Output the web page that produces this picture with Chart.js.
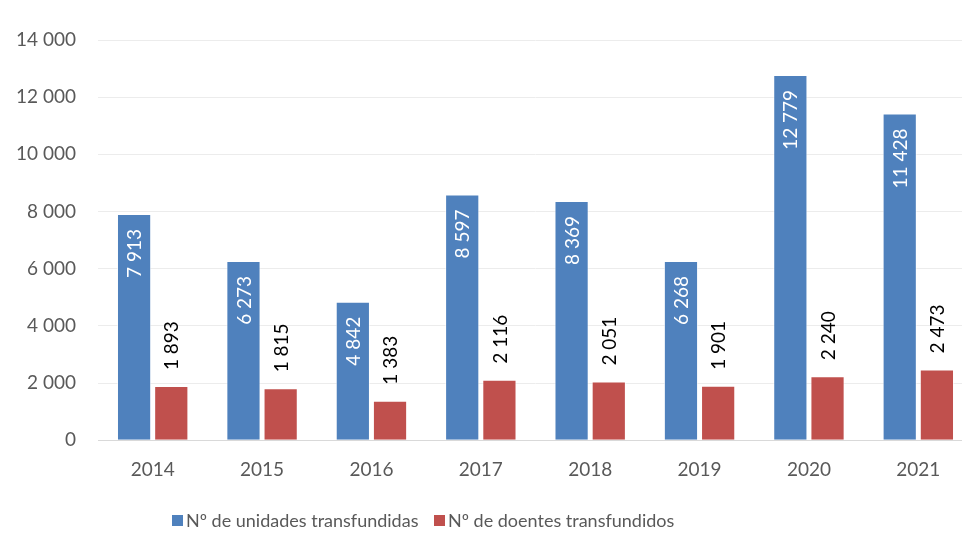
<!DOCTYPE html>
<html>
<head>
<meta charset="utf-8">
<script src="https://cdn.jsdelivr.net/npm/chart.js@4.4.0/dist/chart.umd.min.js"></script>
<style>
  html, body { margin: 0; padding: 0; background: #ffffff; overflow: hidden; }
  #wrap { position: absolute; left: 0; top: 0; width: 975px; height: 547px; }
  .leg-item { position: absolute; top: 509px; display: flex; align-items: center;
              font: 18px Lato, "Open Sans", sans-serif; color: #595959; white-space: nowrap; line-height: 22px; }
  .leg-box { width: 11px; height: 11px; margin-right: 3px; }
</style>
</head>
<body>
<div id="wrap"><canvas id="transfusoesChart"></canvas></div>
<div id="legenda"></div>
<script>
// ==== Dados ====
const anos = ['2014', '2015', '2016', '2017', '2018', '2019', '2020', '2021'];
const unidadesTransfundidas = [7913, 6273, 4842, 8597, 8369, 6268, 12779, 11428];
const doentesTransfundidos = [1893, 1815, 1383, 2116, 2051, 1901, 2240, 2473];
const yTicks = [0, 2000, 4000, 6000, 8000, 10000, 12000, 14000];

// ==== Cores ====
const azul = '#4F81BD';
const vermelho = '#C0504D';
const cinzaTexto = '#595959';
const fonte = 'Lato, "Open Sans", sans-serif';

// separador de milhares com espaço
const fmt = v => String(v).replace(/\B(?=(\d{3})+(?!\d))/g, ' ');

// ==== Rótulos rodados nas barras ====
const rotulosBarras = {
    id: 'rotulosBarras',
    afterDatasetsDraw(chart) {
        const ctx = chart.ctx;
        chart.data.datasets.forEach((ds, i) => {
            const meta = chart.getDatasetMeta(i);
            meta.data.forEach((bar, j) => {
                const texto = fmt(ds.data[j]);
                ctx.save();
                ctx.translate(bar.x, bar.y);
                ctx.rotate(-Math.PI / 2);
                ctx.font = '19px ' + fonte;
                ctx.textBaseline = 'middle';
                if (i === 0) {
                    // dentro da barra, junto ao topo
                    ctx.fillStyle = '#ffffff';
                    ctx.textAlign = 'right';
                    ctx.fillText(texto, -15, 1);
                } else {
                    // acima da barra
                    ctx.fillStyle = '#000000';
                    ctx.textAlign = 'left';
                    ctx.fillText(texto, 16, 1);
                }
                ctx.restore();
            });
        });
    }
};

const ctx = document.getElementById('transfusoesChart').getContext('2d');
const chart = new Chart(ctx, {
    type: 'bar',
    data: {
        labels: anos,
        datasets: [{
            label: 'Nº de unidades transfundidas',
            data: unidadesTransfundidas,
            backgroundColor: azul,
            borderColor: 'rgba(255,255,255,0.6)',
            borderWidth: 1,
            categoryPercentage: 0.68,
            barPercentage: 0.92
        }, {
            label: 'Nº de doentes transfundidos',
            data: doentesTransfundidos,
            backgroundColor: vermelho,
            borderColor: 'rgba(255,255,255,0.6)',
            borderWidth: 1,
            categoryPercentage: 0.68,
            barPercentage: 0.92
        }]
    },
    options: {
        responsive: true,
        maintainAspectRatio: false,
        animation: false,
        layout: { padding: { left: 12, top: 40, right: 2, bottom: 48 } },
        plugins: {
            legend: { display: false },
            tooltip: { enabled: false }
        },
        scales: {
            y: {
                min: 0,
                max: 14000,
                afterBuildTicks: s => { s.ticks = yTicks.map(v => ({ value: v })); },
                afterFit: s => { s.width = 86; },
                border: { display: false },
                grid: { color: '#ececec', lineWidth: 1, drawTicks: false },
                ticks: {
                    color: cinzaTexto,
                    padding: 22,
                    font: { family: fonte, size: 19 },
                    callback: v => fmt(v)
                }
            },
            x: {
                border: { color: '#d9d9d9', width: 1 },
                grid: { display: false, drawTicks: false },
                ticks: {
                    color: cinzaTexto,
                    padding: 18,
                    font: { family: fonte, size: 19 }
                }
            }
        }
    },
    plugins: [rotulosBarras]
});

// ==== Legenda em HTML (posição como no original) ====
const legendaX = [172, 434];
const legenda = document.getElementById('legenda');
chart.data.datasets.forEach((ds, i) => {
    const item = document.createElement('div');
    item.className = 'leg-item';
    item.style.left = legendaX[i] + 'px';
    const box = document.createElement('span');
    box.className = 'leg-box';
    box.style.background = ds.backgroundColor;
    const txt = document.createElement('span');
    txt.textContent = ds.label;
    item.appendChild(box);
    item.appendChild(txt);
    legenda.appendChild(item);
});
</script>
</body>
</html>
